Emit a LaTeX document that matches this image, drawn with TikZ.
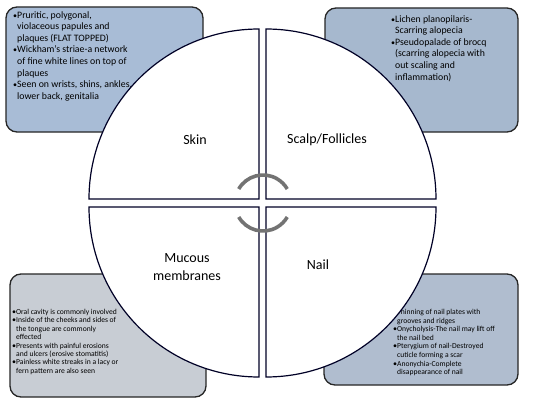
\documentclass[tikz,border=0pt]{standalone}
\usepackage{fontspec}
\setmainfont{Carlito}
\begin{document}
\begin{tikzpicture}[x=1pt,y=1pt,
  infobox/.style={draw=black!85,line width=1.3pt,rounded corners=11pt},
  quad/.style={draw=black!85!blue,line width=1.2pt,fill=white},
  infotext/.style={anchor=north west,inner sep=0pt,align=left,text=black},
  biglabel/.style={font=\fontsize{14}{16}\selectfont,align=center,inner sep=0pt},
  cyclearc/.style={draw=black!55,line width=3.6pt}
]
\useasboundingbox (0,0) rectangle (535,408);
\fill[white] (0,0) rectangle (535,408);
\def\bu{{\footnotesize\textbullet}}
\def\sp{\phantom{\bu}}
% corner boxes
\draw[infobox,fill={rgb,255:red,168;green,188;blue,214}] (6,276) rectangle (203,401);
\draw[infobox,fill={rgb,255:red,166;green,184;blue,206}] (325,276) rectangle (518,400);
\draw[infobox,fill={rgb,255:red,200;green,205;blue,212}] (10,11) rectangle (206,134);
\draw[infobox,fill={rgb,255:red,176;green,189;blue,207}] (324,23) rectangle (518,134);
% box texts
\node[infotext,font=\fontsize{9.8}{11.6}\selectfont] (tltext) at (13,397)
 {\bu Pruritic, polygonal,\\ \sp violaceous papules and\\ \sp plaques (FLAT TOPPED)\\
  \bu Wickham's striae-a network\\ \sp of fine white lines on top of\\ \sp plaques\\
  \bu Seen on wrists, shins, ankles,\\ \sp lower back, genitalia};
\node[infotext,font=\fontsize{9.8}{11.6}\selectfont] (trtext) at (391,393)
 {\bu Lichen planopilaris-\\ \sp Scarring alopecia\\
  \bu Pseudopalade of brocq\\ \sp (scarring alopecia with\\ \sp out scaling and\\ \sp inflammation)};
\node[infotext,font=\fontsize{7.6}{8.4}\selectfont] (bltext) at (12,99)
 {\bu Oral cavity is commonly involved\\
  \bu Inside of the cheeks and sides of\\ \sp the tongue are commonly\\ \sp effected\\
  \bu Presents with painful erosions\\ \sp and ulcers (erosive stomatitis)\\
  \bu Painless white streaks in a lacy or\\ \sp fern pattern are also seen};
\node[infotext,font=\fontsize{7.6}{8.6}\selectfont] (brtext) at (393,99)
 {\bu Thinning of nail plates with\\ \sp grooves and ridges\\
  \bu Onycholysis-The nail may lift off\\ \sp the nail bed\\
  \bu Pterygium of nail-Destroyed\\ \sp cuticle forming a scar\\
  \bu Anonychia-Complete\\ \sp disappearance of nail};
% quadrants
\coordinate (ctl) at (259,209);
\coordinate (ctr) at (266,209);
\coordinate (cbl) at (259,201);
\coordinate (cbr) at (266,201);
\path[quad] (ctl) -- ++(-170,0) arc[start angle=180,end angle=90,radius=170] -- cycle;
\path[quad] (ctr) -- ++(0,170) arc[start angle=90,end angle=0,radius=170] -- cycle;
\path[quad] (cbl) -- ++(0,-170) arc[start angle=270,end angle=180,radius=170] -- cycle;
\path[quad] (cbr) -- ++(170,0) arc[start angle=0,end angle=-90,radius=170] -- cycle;
% labels
\node[biglabel] (skin) at (195,268) {Skin};
\node[biglabel] (scalp) at (327,268) {Scalp/Follicles};
\node[biglabel] (mucous) at (187,141) {Mucous\\[2pt]membranes};
\node[biglabel] (nail) at (318,143) {Nail};
% cycle arcs
\coordinate (cc) at (263,205);
\draw[cyclearc] (cc) ++(150:28) arc[start angle=150,end angle=30,radius=28];
\draw[cyclearc] (cc) ++(210:28) arc[start angle=210,end angle=330,radius=28];
\end{tikzpicture}
\end{document}
